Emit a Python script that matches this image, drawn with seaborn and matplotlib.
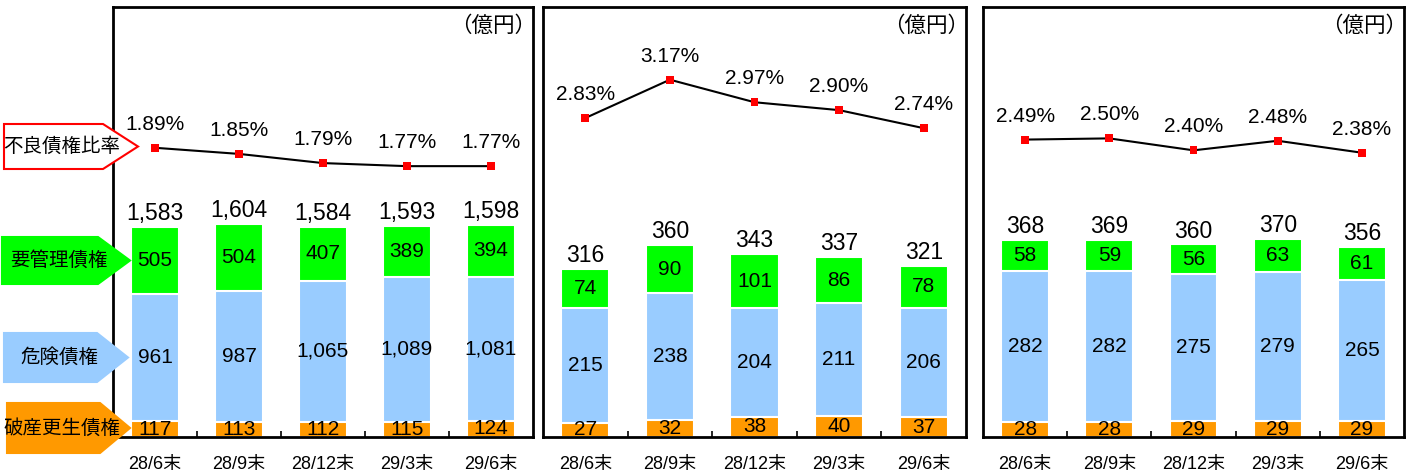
import numpy as np
import pandas as pd
import matplotlib
matplotlib.use("Agg")
import matplotlib.pyplot as plt
from matplotlib.patches import Polygon
import seaborn as sns

# --- data ---
periods = ["28/6末", "28/9末", "28/12末", "29/3末", "29/6末"]

# panel 1
p1_hasan = [117, 113, 112, 115, 124]
p1_kiken = [961, 987, 1065, 1089, 1081]
p1_yokanri = [505, 504, 407, 389, 394]
p1_total = [1583, 1604, 1584, 1593, 1598]
p1_ratio = [1.89, 1.85, 1.79, 1.77, 1.77]

# panel 2
p2_hasan = [27, 32, 38, 40, 37]
p2_kiken = [215, 238, 204, 211, 206]
p2_yokanri = [74, 90, 101, 86, 78]
p2_total = [316, 360, 343, 337, 321]
p2_ratio = [2.83, 3.17, 2.97, 2.90, 2.74]

# panel 3
p3_hasan = [28, 28, 29, 29, 29]
p3_kiken = [282, 282, 275, 279, 265]
p3_yokanri = [58, 59, 56, 63, 61]
p3_total = [368, 369, 360, 370, 356]
p3_ratio = [2.49, 2.50, 2.40, 2.48, 2.38]

# --- style ---
GREEN = "#00FF00"
BLUE = "#99CCFF"
ORANGE = "#FF9900"
RED = "#FF0000"

sns.set_style("white")
plt.rcParams["font.family"] = ["Liberation Sans", "Noto Sans CJK JP"]
plt.rcParams["text.color"] = "black"
plt.rcParams["xtick.color"] = "black"
plt.rcParams["xtick.labelcolor"] = "black"

W, H = 1413, 472
fig = plt.figure(figsize=(W / 100, H / 100), dpi=100)


def px_box(x0, x1, y_top, y_bot):
    return [x0 / W, 1 - y_bot / H, (x1 - x0) / W, (y_bot - y_top) / H]


def draw_panel(rect, hasan, kiken, yokanri, total, ratio, bar_max, ratio_max):
    ax = fig.add_axes(rect)
    df = pd.DataFrame({
        "period": periods,
        "hasan": hasan,
        "kiken": kiken,
        "yokanri": yokanri,
        "total": total,
        "ratio": ratio,
    })
    df["cum_kiken"] = df["hasan"] + df["kiken"]
    df["cum_top"] = df["cum_kiken"] + df["yokanri"]

    # stacked bars drawn as overlapping cumulative layers
    bar_kws = dict(x="period", width=0.57, saturation=1, errorbar=None,
                   edgecolor="white", linewidth=1.5, ax=ax)
    sns.barplot(data=df, y="cum_top", color=GREEN, **bar_kws)
    sns.barplot(data=df, y="cum_kiken", color=BLUE, **bar_kws)
    sns.barplot(data=df, y="hasan", color=ORANGE, **bar_kws)

    ax.set_xlim(-0.5, len(periods) - 0.5)
    ax.set_ylim(0, bar_max)
    ax.set_xlabel("")
    ax.set_ylabel("")
    ax.set_yticks([])

    for i, row in df.iterrows():
        ax.text(i, row["hasan"] / 2, f"{row['hasan']:,}", ha="center", va="center",
                fontsize=15, clip_on=True)
        ax.text(i, row["hasan"] + row["kiken"] / 2, f"{row['kiken']:,}",
                ha="center", va="center", fontsize=15)
        ax.text(i, row["cum_kiken"] + row["yokanri"] / 2, f"{row['yokanri']:,}",
                ha="center", va="center", fontsize=15)
        ax.annotate(f"{row['total']:,}", (i, row["cum_top"]), xytext=(0, 5),
                    textcoords="offset points", ha="center", va="baseline",
                    fontsize=16.5)

    ax.set_xticks(range(len(periods)))
    ax.set_xticklabels(periods, fontsize=13)
    ax.set_xticks(np.arange(len(periods) - 1) + 0.5, minor=True)
    ax.tick_params(axis="x", which="major", length=0, pad=14)
    ax.tick_params(axis="x", which="minor", direction="in", length=4,
                   width=1.2, color="black", bottom=True)
    for sp in ax.spines.values():
        sp.set_visible(True)
        sp.set_color("black")
        sp.set_linewidth(2)

    ax.text(1.008, 0.955, "（億円）", transform=ax.transAxes, ha="right",
            va="center", fontsize=15.5)

    # ratio line on a secondary axis
    ax2 = ax.twinx()
    xpos = np.arange(len(periods))
    sns.lineplot(x=xpos, y=df["ratio"].values, color="black", linewidth=1.5, ax=ax2)
    sns.scatterplot(x=xpos, y=df["ratio"].values, marker="s", color=RED, s=32,
                    edgecolor="none", ax=ax2, zorder=3)
    ax2.set_ylim(0, ratio_max)
    ax2.set_xlim(-0.5, len(periods) - 0.5)
    ax2.set_yticks([])
    ax2.set_ylabel("")
    for sp in ax2.spines.values():
        sp.set_visible(False)
    for i, v in enumerate(ratio):
        ax2.annotate(f"{v:.2f}%", (i, v), xytext=(0, 13), textcoords="offset points",
                     ha="center", va="baseline", fontsize=15)
    return ax


draw_panel(px_box(113, 533, 7, 437), p1_hasan, p1_kiken, p1_yokanri, p1_total,
           p1_ratio, 3240, 2.81)
draw_panel(px_box(543, 966, 7, 437), p2_hasan, p2_kiken, p2_yokanri, p2_total,
           p2_ratio, 807, 3.815)
draw_panel(px_box(983, 1404, 7, 437), p3_hasan, p3_kiken, p3_yokanri, p3_total,
           p3_ratio, 804, 3.60)

# --- left arrow labels ---
legend_items = [
    ("不良債権比率", "white", RED, (4, 103, 138, 124, 169), 62),
    ("要管理債権", GREEN, GREEN, (2, 98, 130, 237, 284), 59),
    ("危険債権", BLUE, BLUE, (4, 97, 128, 333, 382), 59),
    ("破産更生債権", ORANGE, ORANGE, (7, 100, 130, 403, 453), 62),
]
for label, face, edge, (x0, xb, xt, yt, yb), tx in legend_items:
    ym = (yt + yb) / 2
    pts = [(x0, yt), (xb, yt), (xt, ym), (xb, yb), (x0, yb)]
    pts = [(x / W, 1 - y / H) for x, y in pts]
    poly = Polygon(pts, closed=True, facecolor=face, edgecolor=edge, linewidth=1.5,
                   transform=fig.transFigure, zorder=10)
    fig.patches.append(poly)
    fig.text(tx / W, 1 - ym / H, label, ha="center", va="center", fontsize=14,
             color="black", zorder=11)

fig.savefig("out.png", dpi=100)
